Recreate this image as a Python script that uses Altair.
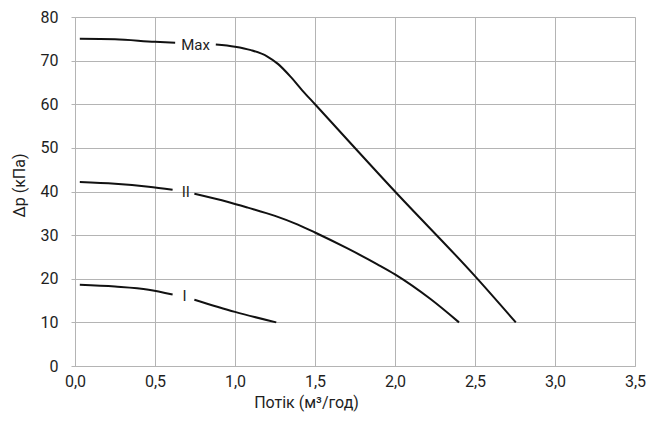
import altair as alt
import pandas as pd

# Curve data (flow m3/h, pressure kPa); each curve split in two around its label
max_a_x = [0.03, 0.25, 0.5, 0.626]
max_a_y = [75.0, 74.9, 74.3, 74.1]
max_b_x = [0.88, 1.0, 1.1, 1.2, 1.27, 1.35, 1.42, 1.5, 2.0, 2.5, 2.755]
max_b_y = [73.7, 73.2, 72.4, 71.0, 69.2, 66.2, 63.2, 60.0, 40.0, 20.6, 10.0]

ii_a_x = [0.03, 0.25, 0.46, 0.61]
ii_a_y = [42.2, 41.8, 41.1, 40.4]
ii_b_x = [0.746, 0.957, 1.08, 1.25, 1.393, 1.5, 1.7, 1.89, 2.0, 2.22, 2.4]
ii_b_y = [39.5, 37.6, 36.3, 34.4, 32.4, 30.6, 27.0, 23.3, 21.0, 15.4, 10.0]

i_a_x = [0.03, 0.25, 0.46, 0.61]
i_a_y = [18.6, 18.2, 17.5, 16.4]
i_b_x = [0.746, 1.0, 1.258]
i_b_y = [15.2, 12.4, 10.0]

label_names = ["Max", "II", "I"]
label_x = [0.753, 0.692, 0.684]
label_y = [73.6, 39.8, 16.1]

x_ticks = [0, 0.5, 1.0, 1.5, 2.0, 2.5, 3.0, 3.5]
y_ticks = [0, 10, 20, 30, 40, 50, 60, 70, 80]

segments = [
    ("Max-a", max_a_x, max_a_y), ("Max-b", max_b_x, max_b_y),
    ("II-a", ii_a_x, ii_a_y), ("II-b", ii_b_x, ii_b_y),
    ("I-a", i_a_x, i_a_y), ("I-b", i_b_x, i_b_y),
]
rows = []
for name, xs, ys in segments:
    for i, (xv, yv) in enumerate(zip(xs, ys)):
        rows.append({"seg": name, "order": i, "q": xv, "p": yv})
df = pd.DataFrame(rows)
labels = pd.DataFrame({"name": label_names, "q": label_x, "p": label_y})

FONT = "Roboto"
GRID = "#b4b4b4"
TXT = "#1e1e1e"

xscale = alt.Scale(domain=[0, 3.5], nice=False, zero=False)
yscale = alt.Scale(domain=[0, 80], nice=False)

lines = alt.Chart(df).mark_line(color="#111111", strokeWidth=2, interpolate="monotone").encode(
    x=alt.X("q:Q", scale=xscale,
            axis=alt.Axis(values=x_ticks, title="Потік (м³/год)", grid=True, gridColor=GRID,
                          domainColor=GRID, ticks=False, labelPadding=7, labelFlush=False,
                          labelExpr="replace(format(datum.value, '.1f'), '.', ',')",
                          labelFontSize=16, labelColor=TXT, labelFont=FONT,
                          titleFont=FONT, titleFontSize=16, titleFontWeight="normal",
                          titleColor=TXT, titleX=231, titleY=36, titleAlign="center",
                          titleBaseline="middle")),
    y=alt.Y("p:Q", scale=yscale,
            axis=alt.Axis(values=y_ticks, title="Δp (кПа)", grid=True, gridColor=GRID,
                          domainColor=GRID, tickColor=GRID, tickSize=4, labelPadding=13,
                          labelFlush=False,
                          labelFontSize=16, labelColor=TXT, labelFont=FONT,
                          titleFont=FONT, titleFontSize=16, titleFontWeight="normal",
                          titleColor=TXT, titleX=-56, titleY=168, titleAlign="center",
                          titleBaseline="middle")),
    detail="seg:N",
    order="order:Q",
)

texts = alt.Chart(labels).mark_text(font=FONT, fontSize=15, color=TXT, baseline="middle").encode(
    x=alt.X("q:Q", scale=xscale),
    y=alt.Y("p:Q", scale=yscale),
    text="name:N",
)

chart = (lines + texts).properties(
    width=560, height=349,
    autosize=alt.AutoSizeParams(type="none"),
    padding={"left": 67, "top": 9, "right": 11, "bottom": 47},
).configure_view(stroke=None).configure(background="white")

chart.save("out.html", embed_options={"renderer": "svg", "actions": False})
